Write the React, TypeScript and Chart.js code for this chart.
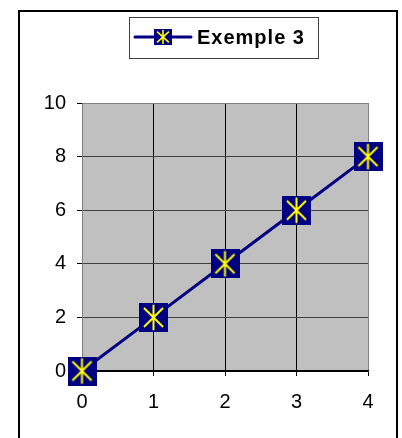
import React, { useEffect, useRef } from "react";
import { Chart, registerables } from "chart.js";

Chart.register(...registerables);

const seriesLabel = "Exemple 3";
const xValues = [0, 1, 2, 3, 4];
const yValues = [0, 2, 4, 6, 8];
const yTickValues = [0, 2, 4, 6, 8, 10];

const NAVY = "#000080";
const YELLOW = "#FFFF00";
const FONT = "'Liberation Sans', Arial, sans-serif";

function makeMarker(w: number, h: number, lw: number): HTMLCanvasElement {
  const c = document.createElement("canvas");
  c.width = w;
  c.height = h;
  const g = c.getContext("2d")!;
  g.fillStyle = NAVY;
  g.fillRect(0, 0, w, h);
  g.strokeStyle = YELLOW;
  g.lineWidth = lw;
  const ix = w * 0.17;
  const iy = h * 0.17;
  g.beginPath();
  g.moveTo(w / 2, h * 0.06);
  g.lineTo(w / 2, h * 0.94);
  g.moveTo(ix, iy);
  g.lineTo(w - ix, h - iy);
  g.moveTo(w - ix, iy);
  g.lineTo(ix, h - iy);
  g.stroke();
  return c;
}

export default function App() {
  const ref = useRef<HTMLCanvasElement | null>(null);

  useEffect(() => {
    if (!ref.current) return;
    const bigMarker = makeMarker(29, 29, 2);
    const smallMarker = makeMarker(18, 16, 1.6);

    const bgPlugin = {
      id: "plotBg",
      beforeDraw(chart: any) {
        const { ctx, chartArea } = chart;
        ctx.save();
        ctx.fillStyle = "#C0C0C0";
        ctx.fillRect(chartArea.left, chartArea.top, chartArea.right - chartArea.left, chartArea.bottom - chartArea.top);
        ctx.restore();
      },
    };

    const legendPlugin = {
      id: "customLegend",
      afterDraw(chart: any) {
        const ctx = chart.ctx;
        const ds = chart.data.datasets[0];
        ctx.save();
        ctx.fillStyle = "#FFFFFF";
        ctx.fillRect(129.5, 17.5, 189, 41);
        ctx.strokeStyle = "#404040";
        ctx.lineWidth = 1;
        ctx.strokeRect(129.5, 17.5, 189, 41);
        ctx.strokeStyle = ds.borderColor;
        ctx.lineWidth = 3;
        ctx.lineCap = "round";
        ctx.beginPath();
        ctx.moveTo(135, 37);
        ctx.lineTo(191, 37);
        ctx.stroke();
        ctx.drawImage(smallMarker, 154, 29);
        ctx.fillStyle = "#000000";
        ctx.font = `bold 20px ${FONT}`;
        ctx.textBaseline = "alphabetic";
        ctx.textAlign = "left";
        try {
          (ctx as any).letterSpacing = "1px";
        } catch (e) {}
        ctx.fillText(ds.label, 197, 44);
        ctx.restore();
      },
    };

    const chart = new Chart(ref.current, {
      type: "line",
      data: {
        datasets: [
          {
            label: seriesLabel,
            data: xValues.map((x, i) => ({ x, y: yValues[i] })),
            borderColor: NAVY,
            backgroundColor: NAVY,
            borderWidth: 3,
            pointStyle: bigMarker as any,
            pointRadius: 14,
            clip: false as any,
            tension: 0,
          },
        ],
      },
      options: {
        animation: false,
        responsive: false,
        layout: { padding: { top: 103, right: 34, left: 0, bottom: 0 } },
        plugins: {
          legend: { display: false },
          tooltip: { enabled: false },
        },
        scales: {
          x: {
            type: "linear",
            min: 0,
            max: 4,
            afterFit(scale: any) {
              scale.height = 67;
            },
            ticks: {
              stepSize: 1,
              color: "#000",
              padding: 14,
              font: { family: FONT, size: 20 },
              callback: (v: any) => String(v),
            },
            grid: {
              color: (c: any) => (c.tick && c.tick.value === 4 ? "#808080" : c.tick && c.tick.value === 0 ? "#808080" : "#000000"),
              tickColor: "#000000",
              tickLength: 5,
              lineWidth: 1,
            },
            border: { display: true, color: "#000000", width: 1.5 },
          },
          y: {
            type: "linear",
            min: 0,
            max: 10,
            afterFit(scale: any) {
              scale.width = 82;
            },
            ticks: {
              stepSize: 1,
              color: "#000",
              padding: 11,
              font: { family: FONT, size: 20 },
              callback: (v: any) => (yTickValues.includes(Number(v)) ? String(v) : ""),
            },
            grid: {
              color: (c: any) => (c.tick && c.tick.value === 10 ? "#808080" : c.tick && c.tick.value === 0 ? "#000000" : "#404040"),
              tickColor: (c: any) => (c.tick && yTickValues.includes(c.tick.value) ? "#000000" : "rgba(0,0,0,0)"),
              tickLength: 5,
              lineWidth: 1,
            },
            border: { display: true, color: "#808080", width: 1 },
          },
        },
      },
      plugins: [bgPlugin, legendPlugin],
    });
    return () => chart.destroy();
  }, []);

  return (
    <div style={{ position: "absolute", left: 0, top: 0, width: 402, height: 438, overflow: "hidden", background: "#fff" }}>
      <div
        style={{
          position: "absolute",
          left: 18,
          top: 10,
          width: 376,
          height: 460,
          border: "2px solid #000",
          boxSizing: "content-box",
        }}
      />
      <canvas ref={ref} width={402} height={438} style={{ position: "absolute", left: 0, top: 0, display: "block" }} />
    </div>
  );
}
